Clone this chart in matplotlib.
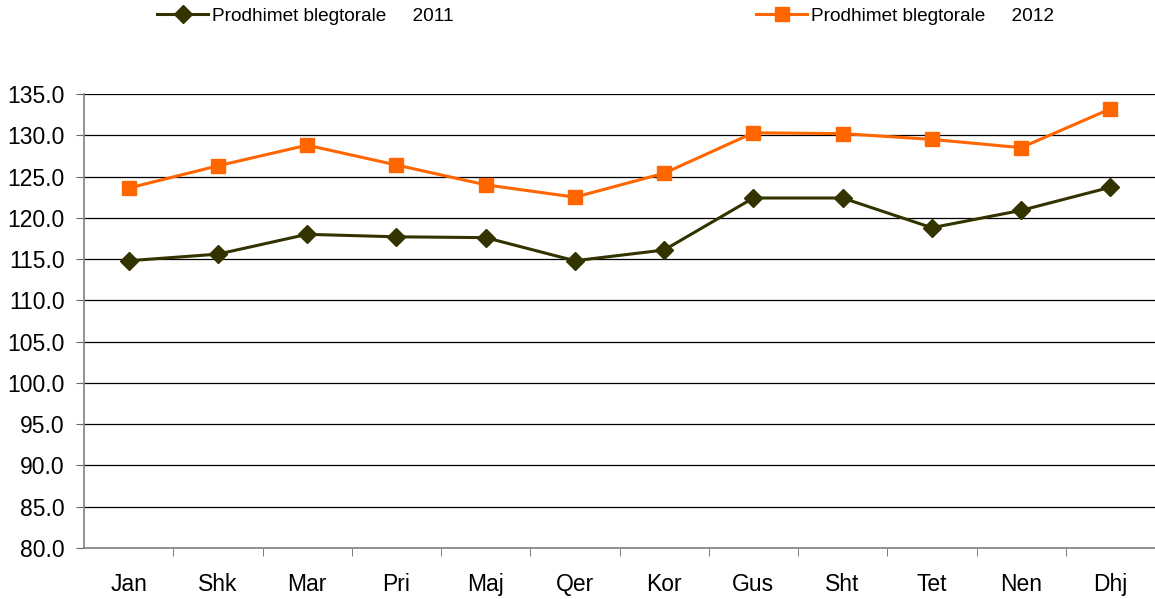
import matplotlib
matplotlib.use("Agg")
import matplotlib.pyplot as plt
import numpy as np
from matplotlib.lines import Line2D

months = ["Jan", "Shk", "Mar", "Pri", "Maj", "Qer", "Kor", "Gus", "Sht", "Tet", "Nen", "Dhj"]
vals_2011 = [114.8, 115.6, 118.0, 117.7, 117.6, 114.8, 116.1, 122.4, 122.4, 118.8, 120.9, 123.7]
vals_2012 = [123.6, 126.3, 128.8, 126.4, 124.0, 122.5, 125.4, 130.3, 130.2, 129.5, 128.5, 133.2]
label_2011 = "Prodhimet blegtorale     2011"
label_2012 = "Prodhimet blegtorale     2012"

plt.rcParams['font.family'] = ['Liberation Sans', 'DejaVu Sans']

fig = plt.figure(figsize=(11.55, 5.99), dpi=100)
ax = fig.add_axes([84/1155, 1-548/599, 1-84/1155, (548-94)/599])

x = np.arange(len(months))
c1 = "#333300"
c2 = "#FF6600"
ax.plot(x, vals_2011, color=c1, lw=2.2, marker="D", markersize=9, zorder=3)
ax.plot(x, vals_2012, color=c2, lw=2.2, marker="s", markersize=10, zorder=3)

ax.set_xlim(-0.5, 11.5)
ax.set_ylim(80, 135)
ax.set_yticks(np.arange(80, 135.1, 5))
ax.set_yticklabels([f"{v:.1f}" for v in np.arange(80, 135.1, 5)], fontsize=16.5)
ax.yaxis.grid(True, color="black", lw=0.9)
ax.set_axisbelow(True)

ax.set_xticks(x)
ax.set_xticklabels(months, fontsize=16.5)
ax.tick_params(axis="x", which="major", length=0, pad=18)
ax.set_xticks(np.arange(0.5, 11.0, 1.0), minor=True)
ax.tick_params(axis="x", which="minor", length=6, color="#666666", direction="out")
ax.tick_params(axis="y", length=6, color="#666666", pad=8)

for s in ["top", "right"]:
    ax.spines[s].set_visible(False)
for s in ["left", "bottom"]:
    ax.spines[s].set_color("#808080")
    ax.spines[s].set_linewidth(1.2)

h1 = Line2D([], [], color=c1, lw=2.2, marker="D", markersize=9)
h2 = Line2D([], [], color=c2, lw=2.2, marker="s", markersize=10)
fig.legend([h1], [label_2011], loc="center left", bbox_to_anchor=(157/1155, 1-16/599),
           frameon=False, fontsize=13.7, handlelength=2.7, handletextpad=0.2, borderaxespad=0, borderpad=0)
fig.legend([h2], [label_2012], loc="center left", bbox_to_anchor=(756/1155, 1-16/599),
           frameon=False, fontsize=13.7, handlelength=2.7, handletextpad=0.2, borderaxespad=0, borderpad=0)

fig.savefig("out.png", dpi=100)
